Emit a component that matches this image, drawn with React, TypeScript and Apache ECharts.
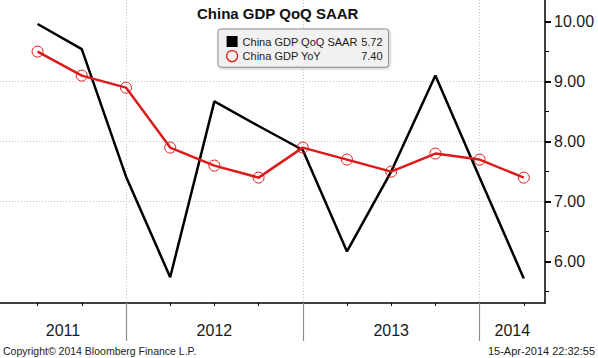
import React, { useEffect, useRef } from 'react';
import * as echarts from 'echarts';

// ---- data ----
const quarters = ['2011 Q2', '2011 Q3', '2011 Q4', '2012 Q1', '2012 Q2', '2012 Q3', '2012 Q4', '2013 Q1', '2013 Q2', '2013 Q3', '2013 Q4', '2014 Q1'];
const gdpQoqSaar = [9.96, 9.54, 7.42, 5.74, 8.67, 8.26, 7.86, 6.17, 7.5, 9.1, 7.4, 5.72];
const gdpYoy = [9.5, 9.1, 8.9, 7.9, 7.6, 7.4, 7.9, 7.7, 7.5, 7.8, 7.7, 7.4];
const years = ['2011', '2012', '2013', '2014'];
const yTickValues = [6, 7, 8, 9, 10];
const seriesNames = ['China GDP QoQ SAAR', 'China GDP YoY'];
const titleText = 'China GDP QoQ SAAR';
const copyrightText = 'Copyright\u00A9 2014 Bloomberg Finance L.P.';
const stampText = '15-Apr-2014 22:32:55';

// axis extents
const X_MIN = -0.85;
const X_MAX = 11.48;
const Y_MIN = 5.31;
const Y_MAX = 10.36;

const FONT = '"Liberation Sans", Arial, sans-serif';

export default function App() {
  const ref = useRef<HTMLDivElement>(null);

  useEffect(() => {
    if (!ref.current) return;
    const chart = echarts.init(ref.current, undefined, { renderer: 'svg' });

    const quarterIdx = quarters.map((_, i) => i);
    const boundaries = quarters
      .map((q, i) => (q.endsWith('Q4') ? i : -1))
      .filter((i) => i >= 0);
    const edges = [X_MIN, ...boundaries, X_MAX];
    const yearCenters = edges.slice(0, -1).map((e, i) => (e + edges[i + 1]) / 2);

    const qoqData = gdpQoqSaar.map((v, i) => [i, v]);
    const yoyData = gdpYoy.map((v, i) => [i, v]);
    const lastVals: Record<string, string> = {
      [seriesNames[0]]: gdpQoqSaar[gdpQoqSaar.length - 1].toFixed(2),
      [seriesNames[1]]: gdpYoy[gdpYoy.length - 1].toFixed(2),
    };

    const red = '#dc1a1a';
    const dotted = { color: '#c4c4c4', width: 1, type: [1, 2] as any };

    chart.setOption({
      animation: false,
      backgroundColor: '#ffffff',
      title: {
        text: titleText,
        left: 197,
        top: 4,
        padding: 0,
        textStyle: { fontFamily: FONT, fontWeight: 'bold', fontSize: 15, color: '#111', lineHeight: 18 },
      },
      legend: {
        orient: 'vertical',
        left: 218,
        top: 29,
        padding: [7, 6, 5, 8],
        itemGap: 3,
        itemWidth: 11,
        itemHeight: 11,
        backgroundColor: '#f1f1f1',
        borderColor: '#8a8a8a',
        borderWidth: 1,
        borderRadius: 3,
        shadowBlur: 3,
        shadowColor: 'rgba(0,0,0,0.25)',
        shadowOffsetX: 1,
        shadowOffsetY: 1,
        selectedMode: false,
        data: [
          { name: seriesNames[0], icon: 'rect', itemStyle: { color: '#000', borderWidth: 0 } },
          { name: seriesNames[1], icon: 'circle', itemStyle: { color: 'rgba(0,0,0,0)', borderColor: red, borderWidth: 1.2 } },
        ],
        formatter: (name: string) => `{n|${name}}{v|${lastVals[name]}}`,
        textStyle: {
          rich: {
            n: { width: 118, fontSize: 11, fontFamily: FONT, color: '#1a1a1a', lineHeight: 14 },
            v: { width: 22, align: 'right', fontSize: 11, fontFamily: FONT, color: '#1a1a1a', lineHeight: 14 },
          },
        },
      },
      grid: { left: 0, right: 53, top: 0, bottom: 55, containLabel: false },
      xAxis: [
        {
          type: 'value',
          position: 'bottom',
          min: X_MIN,
          max: X_MAX,
          axisLine: { show: true, onZero: false, lineStyle: { color: '#000', width: 1.5 } },
          axisTick: { show: true, customValues: quarterIdx, length: 3, lineStyle: { color: '#000', width: 1 } },
          axisLabel: { show: false },
          splitLine: { show: false },
        },
        {
          type: 'value',
          position: 'bottom',
          min: X_MIN,
          max: X_MAX,
          axisLine: { show: false, onZero: false },
          axisTick: { show: true, customValues: boundaries, length: 38, lineStyle: { color: '#8c8c8c', width: 1.2 } },
          axisLabel: {
            show: true,
            customValues: yearCenters,
            margin: 19,
            fontSize: 16,
            fontFamily: FONT,
            color: '#1a1a1a',
            formatter: (v: number) => {
              const i = yearCenters.findIndex((c) => Math.abs(c - v) < 1e-6);
              return i >= 0 ? years[i] : '';
            },
          },
          splitLine: { show: true, lineStyle: dotted },
        },
      ],
      yAxis: {
        type: 'value',
        position: 'right',
        min: Y_MIN,
        max: Y_MAX,
        splitNumber: 5,
        axisLine: { show: true, onZero: false, lineStyle: { color: '#000', width: 1.5 } },
        axisTick: { show: true, customValues: yTickValues, length: 6, lineStyle: { color: '#000', width: 2 } },
        minorTick: { show: true, splitNumber: 2, length: 4, lineStyle: { color: '#000', width: 1 } },
        axisLabel: {
          show: true,
          customValues: yTickValues,
          margin: 9,
          fontSize: 16,
          fontFamily: FONT,
          color: '#1a1a1a',
          formatter: (v: number) => v.toFixed(2),
        },
        splitLine: { show: true, showMinLine: false, showMaxLine: false, lineStyle: dotted },
      },
      series: [
        {
          name: seriesNames[0],
          type: 'line',
          xAxisIndex: 0,
          data: qoqData,
          symbol: 'none',
          showSymbol: false,
          itemStyle: { color: '#000' },
          lineStyle: { color: '#000', width: 2.5 },
          z: 2,
        },
        {
          name: seriesNames[1],
          type: 'line',
          xAxisIndex: 0,
          data: yoyData,
          symbol: 'circle',
          symbolSize: 11,
          itemStyle: { color: 'rgba(0,0,0,0)', borderColor: red, borderWidth: 1 },
          lineStyle: { color: red, width: 2.5 },
          z: 3,
        },
      ],
      graphic: [
        {
          type: 'text',
          x: 3,
          y: 351,
          style: { text: copyrightText, fontSize: 10.5, fontFamily: FONT, fill: '#222', align: 'left', verticalAlign: 'middle' },
        },
        {
          type: 'text',
          x: 595,
          y: 351,
          style: { text: stampText, fontSize: 11, fontFamily: FONT, fill: '#222', align: 'right', verticalAlign: 'middle' },
        },
      ],
    });

    return () => chart.dispose();
  }, []);

  return (
    <div
      ref={ref}
      style={{ position: 'absolute', left: 0, top: 0, width: 598, height: 358, background: '#fff' }}
    />
  );
}
